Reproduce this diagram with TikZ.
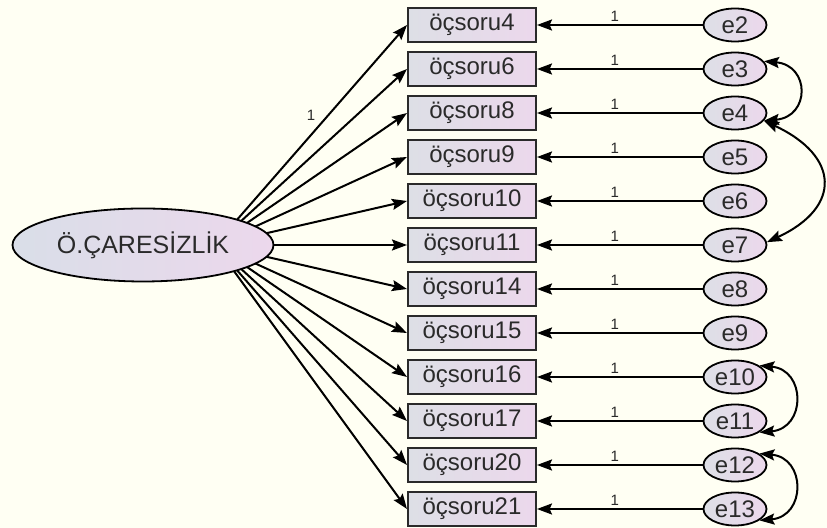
\documentclass[tikz,border=0pt]{standalone}
\usepackage{fontspec}
\setmainfont{Liberation Sans}
\usepackage{xcolor}
\usetikzlibrary{arrows.meta,positioning,shapes.geometric,backgrounds}

\definecolor{paper}{HTML}{FFFFF3}
\definecolor{shadeL}{HTML}{DDDFE6}
\definecolor{shadeR}{HTML}{ECD8EC}
\definecolor{latL}{HTML}{D9DEE8}
\definecolor{ink}{HTML}{2A2A2A}

\begin{document}
\begin{tikzpicture}[x=0.5pt, y=0.5pt, node distance=22pt,
    >={Stealth[length=7.5pt, width=5.5pt, inset=1.2pt]},
    obs/.style={draw=ink, line width=1pt, rectangle, left color=shadeL, right color=shadeR,
      minimum width=64pt, minimum height=17pt, inner sep=0pt, text=ink,
      font=\fontsize{12}{14}\selectfont},
    err/.style={draw=black, line width=0.9pt, ellipse, left color=shadeL, right color=shadeR,
      minimum width=31.5pt, minimum height=16.5pt, inner sep=0pt, text=ink,
      font=\fontsize{12}{14}\selectfont},
    latent/.style={draw=black, line width=0.9pt, ellipse, left color=latL, right color=shadeR,
      minimum width=130.5pt, minimum height=36.5pt, inner sep=0pt, text=ink,
      font=\fontsize{12.5}{14}\selectfont},
    wt/.style={font=\fontsize{7.5}{8}\selectfont, inner sep=1pt, text=ink},
    lpath/.style={->, line width=1pt},
    cov/.style={<->, line width=1pt}]

    % === page ===
    \useasboundingbox (0,0) rectangle (827,-528);
    \begin{scope}[on background layer]
        \fill[paper] (0,0) rectangle (827,-528);
    \end{scope}

    % === Observed items ===
    \node[obs] (q4) at (472,-25) {öçsoru4};
    \node[obs, below of=q4] (q6) {öçsoru6};
    \node[obs, below of=q6] (q8) {öçsoru8};
    \node[obs, below of=q8] (q9) {öçsoru9};
    \node[obs, below of=q9] (q10) {öçsoru10};
    \node[obs, below of=q10] (q11) {öçsoru11};
    \node[obs, below of=q11] (q14) {öçsoru14};
    \node[obs, below of=q14] (q15) {öçsoru15};
    \node[obs, below of=q15] (q16) {öçsoru16};
    \node[obs, below of=q16] (q17) {öçsoru17};
    \node[obs, below of=q17] (q20) {öçsoru20};
    \node[obs, below of=q20] (q21) {öçsoru21};

    % === Error terms ===
    \node[err] (e2) at (735,-25) {e2};
    \node[err, below of=e2] (e3) {e3};
    \node[err, below of=e3] (e4) {e4};
    \node[err, below of=e4] (e5) {e5};
    \node[err, below of=e5] (e6) {e6};
    \node[err, below of=e6] (e7) {e7};
    \node[err, below of=e7] (e8) {e8};
    \node[err, below of=e8] (e9) {e9};
    \node[err, below of=e9] (e10) {e10};
    \node[err, below of=e10] (e11) {e11};
    \node[err, below of=e11] (e12) {e12};
    \node[err, below of=e12] (e13) {e13};

    % === Latent factor ===
    \node[latent] (OC) at (143,-245) {Ö.ÇARESİZLİK};
    \coordinate (hub) at ([xshift=36pt]OC.center);

    % loadings (tucked under the ellipse)
    \begin{scope}[on background layer]
        \draw[lpath] (hub) -- node[wt, pos=0.5, yshift=10pt] {1} (q4.west);
        \draw[lpath] (hub) -- (q6.west);
        \draw[lpath] (hub) -- (q8.west);
        \draw[lpath] (hub) -- (q9.west);
        \draw[lpath] (hub) -- (q10.west);
        \draw[lpath] (hub) -- (q11.west);
        \draw[lpath] (hub) -- (q14.west);
        \draw[lpath] (hub) -- (q15.west);
        \draw[lpath] (hub) -- (q16.west);
        \draw[lpath] (hub) -- (q17.west);
        \draw[lpath] (hub) -- (q20.west);
        \draw[lpath] (hub) -- (q21.west);
    \end{scope}

    % error paths
    \draw[lpath] (e2) -- node[wt, pos=0.53, above=0pt] {1} (q4);
    \draw[lpath] (e3) -- node[wt, pos=0.53, above=0pt] {1} (q6);
    \draw[lpath] (e4) -- node[wt, pos=0.53, above=0pt] {1} (q8);
    \draw[lpath] (e5) -- node[wt, pos=0.53, above=0pt] {1} (q9);
    \draw[lpath] (e6) -- node[wt, pos=0.53, above=0pt] {1} (q10);
    \draw[lpath] (e7) -- node[wt, pos=0.53, above=0pt] {1} (q11);
    \draw[lpath] (e8) -- node[wt, pos=0.53, above=0pt] {1} (q14);
    \draw[lpath] (e9) -- node[wt, pos=0.53, above=0pt] {1} (q15);
    \draw[lpath] (e10) -- node[wt, pos=0.53, above=0pt] {1} (q16);
    \draw[lpath] (e11) -- node[wt, pos=0.53, above=0pt] {1} (q17);
    \draw[lpath] (e12) -- node[wt, pos=0.53, above=0pt] {1} (q20);
    \draw[lpath] (e13) -- node[wt, pos=0.53, above=0pt] {1} (q21);

    % correlated errors
    \draw[cov] (e3.15) to[out=-5, in=5, looseness=2] (e4.-15);
    \draw[cov] (e4.-15) to[out=-25, in=25, looseness=1.75] (e7.5);
    \draw[cov] (e10.25) to[out=-5, in=5, looseness=1.8] (e11.-25);
    \draw[cov] (e12.25) to[out=-5, in=5, looseness=1.8] (e13.-25);

\end{tikzpicture}
\end{document}
